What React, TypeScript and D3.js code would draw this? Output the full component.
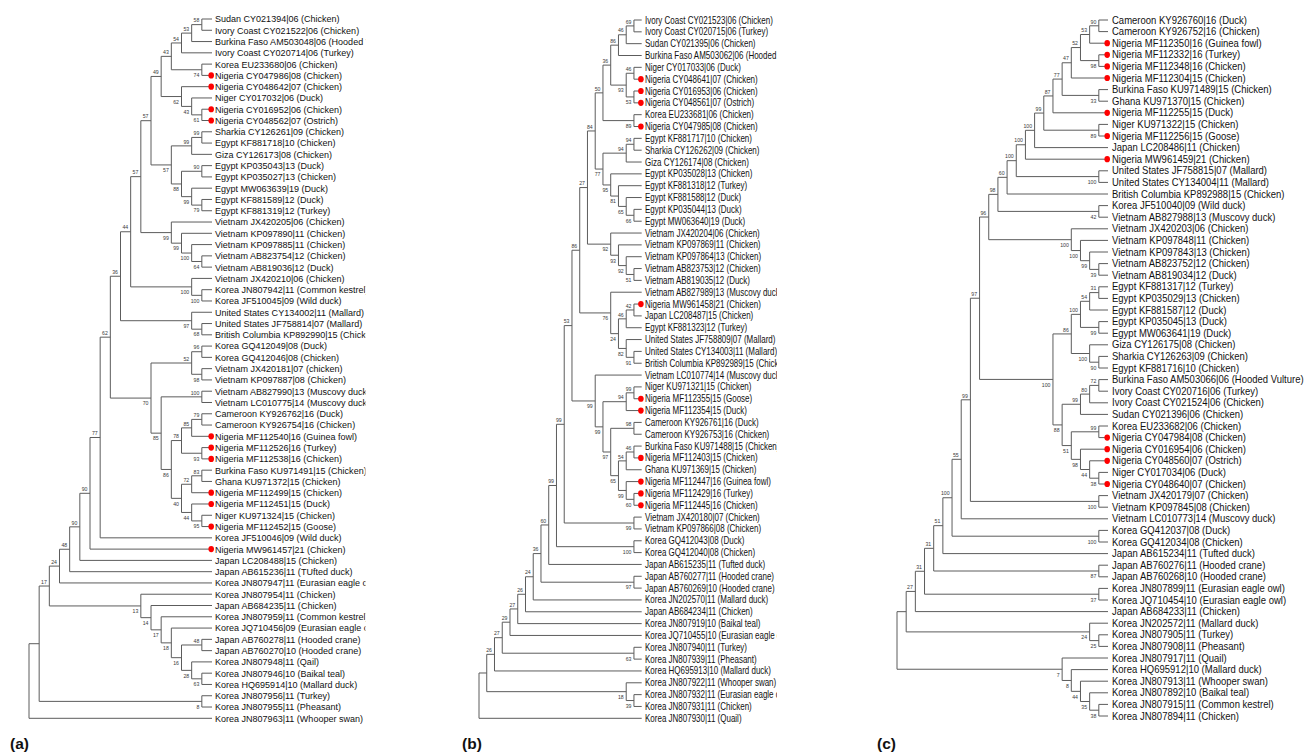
import React from "react";
import * as d3 from "d3";

type Row = [string, string | number, string | number, number | null];

// ---------------- Panel (a) ----------------
const leavesA: string[] = [
  "Sudan CY021394|06 (Chicken)",
  "Ivory Coast CY021522|06 (Chicken)",
  "Burkina Faso AM503048|06 (Hooded Vulture)",
  "Ivory Coast CY020714|06 (Turkey)",
  "Korea EU233680|06 (Chicken)",
  "Nigeria CY047986|08 (Chicken)",
  "Nigeria CY048642|07 (Chicken)",
  "Niger CY017032|06 (Duck)",
  "Nigeria CY016952|06 (Chicken)",
  "Nigeria CY048562|07 (Ostrich)",
  "Sharkia CY126261|09 (Chicken)",
  "Egypt KF881718|10 (Chicken)",
  "Giza CY126173|08 (Chicken)",
  "Egypt KP035043|13 (Duck)",
  "Egypt KP035027|13 (Chicken)",
  "Egypt MW063639|19 (Duck)",
  "Egypt KF881589|12 (Duck)",
  "Egypt KF881319|12 (Turkey)",
  "Vietnam JX420205|06 (Chicken)",
  "Vietnam KP097890|11 (Chicken)",
  "Vietnam KP097885|11 (Chicken)",
  "Vietnam AB823754|12 (Chicken)",
  "Vietnam AB819036|12 (Duck)",
  "Vietnam JX420210|06 (Chicken)",
  "Korea JN807942|11 (Common kestrel)",
  "Korea JF510045|09 (Wild duck)",
  "United States CY134002|11 (Mallard)",
  "United States JF758814|07 (Mallard)",
  "British Columbia KP892990|15 (Chicken)",
  "Korea GQ412049|08 (Duck)",
  "Korea GQ412046|08 (Chicken)",
  "Vietnam JX420181|07 (chicken)",
  "Vietnam KP097887|08 (Chicken)",
  "Vietnam AB827990|13 (Muscovy duck)",
  "Vietnam LC010775|14 (Muscovy duck)",
  "Cameroon KY926762|16 (Duck)",
  "Cameroon KY926754|16 (Chicken)",
  "Nigeria MF112540|16 (Guinea fowl)",
  "Nigeria MF112526|16 (Turkey)",
  "Nigeria MF112538|16 (Chicken)",
  "Burkina Faso KU971491|15 (Chicken)",
  "Ghana KU971372|15 (Chicken)",
  "Nigeria MF112499|15 (Chicken)",
  "Nigeria MF112451|15 (Duck)",
  "Niger KU971324|15 (Chicken)",
  "Nigeria MF112452|15 (Goose)",
  "Korea JF510046|09 (Wild duck)",
  "Nigeria MW961457|21 (Chicken)",
  "Japan LC208488|15 (Chicken)",
  "Japan AB615236|11 (TUfted duck)",
  "Korea JN807947|11 (Eurasian eagle owl)",
  "Korea JN807954|11 (Chicken)",
  "Japan AB684235|11 (Chicken)",
  "Korea JN807959|11 (Common kestrel)",
  "Korea JQ710456|09 (Eurasian eagle owl)",
  "Japan AB760278|11 (Hooded crane)",
  "Japan AB760270|10 (Hooded crane)",
  "Korea JN807948|11 (Qail)",
  "Korea JN807946|10 (Baikal teal)",
  "Korea HQ695914|10 (Mallard duck)",
  "Korea JN807956|11 (Turkey)",
  "Korea JN807955|11 (Pheasant)",
  "Korea JN807963|11 (Whooper swan)",
];

// [node id, upper child, lower child, bootstrap]; numbers are leaf indices
const nodesA: Row[] = [
  ["n1", 0, 1, 58],
  ["n2", "n1", 2, 53],
  ["n3", "n2", 3, 54],
  ["n4", 4, 5, 74],
  ["n5", "n3", "n4", 43],
  ["n6", 8, 9, 61],
  ["n7", 7, "n6", 43],
  ["n8", 6, "n7", 62],
  ["n9", "n5", "n8", 49],
  ["n10", 10, 11, 99],
  ["n11", "n10", 12, 99],
  ["n12", 13, 14, 90],
  ["n13", 16, 17, 79],
  ["n14", 15, "n13", 99],
  ["n15", "n12", "n14", 88],
  ["n16", "n11", "n15", 57],
  ["n17", "n9", "n16", 57],
  ["n18", 21, 22, 64],
  ["n19", 20, "n18", 100],
  ["n20", 19, "n19", 99],
  ["n21", 18, "n20", 99],
  ["n22", "n17", "n21", 57],
  ["n23", 24, 25, 100],
  ["n24", 23, "n23", 100],
  ["n25", "n22", "n24", 44],
  ["n26", 27, 28, 68],
  ["n27", 26, "n26", 97],
  ["n28", "n25", "n27", 36],
  ["n29", 29, 30, 96],
  ["n30", 31, 32, 98],
  ["n31", "n29", "n30", 52],
  ["n32", 33, 34, 100],
  ["n33", 35, 36, 79],
  ["n34", "n33", 37, 85],
  ["n35", 38, 39, 93],
  ["n36", "n34", "n35", 78],
  ["n37", 40, 41, 83],
  ["n38", "n37", 42, 72],
  ["n39", 44, 45, 95],
  ["n40", 43, "n39", 44],
  ["n41", "n38", "n40", 40],
  ["n42", "n36", "n41", 86],
  ["n43", "n32", "n42", 85],
  ["n44", "n31", "n43", 70],
  ["n45", "n28", "n44", 62],
  ["n46", "n45", 46, 77],
  ["n47", "n46", 47, 90],
  ["n48", "n47", 48, 90],
  ["n49", "n48", 49, 48],
  ["n50", "n49", 50, 24],
  ["n51", 55, 56, 48],
  ["n52", 58, 59, 63],
  ["n53", 57, "n52", 28],
  ["n54", "n51", "n53", 16],
  ["n55", 54, "n54", 18],
  ["n56", 53, "n55", 17],
  ["n57", 52, "n56", 14],
  ["n58", 51, "n57", 13],
  ["n59", "n50", "n58", 17],
  ["n60", 60, 61, 8],
  ["n61", "n59", "n60", null],
  ["n62", "n61", 62, null],
];

// ---------------- Panel (b) ----------------
const leavesB: string[] = [
  "Ivory Coast CY021523|06 (Chicken)",
  "Ivory Coast CY020715|06 (Turkey)",
  "Sudan CY021395|06 (Chicken)",
  "Burkina Faso AM503062|06 (Hooded Vulture)",
  "Niger CY017033|06 (Duck)",
  "Nigeria CY048641|07 (Chicken)",
  "Nigeria CY016953|06 (Chicken)",
  "Nigeria CY048561|07 (Ostrich)",
  "Korea EU233681|06 (Chicken)",
  "Nigeria CY047985|08 (Chicken)",
  "Egypt KF881717|10 (Chicken)",
  "Sharkia CY126262|09 (Chicken)",
  "Giza CY126174|08 (Chicken)",
  "Egypt KP035028|13 (Chicken)",
  "Egypt KF881318|12 (Turkey)",
  "Egypt KF881588|12 (Duck)",
  "Egypt KP035044|13 (Duck)",
  "Egypt MW063640|19 (Duck)",
  "Vietnam JX420204|06 (Chicken)",
  "Vietnam KP097869|11 (Chicken)",
  "Vietnam KP097864|13 (Chicken)",
  "Vietnam AB823753|12 (Chicken)",
  "Vietnam AB819035|12 (Duck)",
  "Vietnam AB827989|13 (Muscovy duck)",
  "Nigeria MW961458|21 (Chicken)",
  "Japan LC208487|15 (Chicken)",
  "Egypt KF881323|12 (Turkey)",
  "United States JF758809|07 (Mallard)",
  "United States CY134003|11 (Mallard)",
  "British Columbia KP892989|15 (Chicken)",
  "Vietnam LC010774|14 (Muscovy duck)",
  "Niger KU971321|15 (Chicken)",
  "Nigeria MF112355|15 (Goose)",
  "Nigeria MF112354|15 (Duck)",
  "Cameroon KY926761|16 (Duck)",
  "Cameroon KY926753|16 (Chicken)",
  "Burkina Faso KU971488|15 (Chicken)",
  "Nigeria MF112403|15 (Chicken)",
  "Ghana KU971369|15 (Chicken)",
  "Nigeria MF112447|16 (Guinea fowl)",
  "Nigeria MF112429|16 (Turkey)",
  "Nigeria MF112445|16 (Chicken)",
  "Vietnam JX420180|07 (Chicken)",
  "Vietnam KP097866|08 (Chicken)",
  "Korea GQ412043|08 (Duck)",
  "Korea GQ412040|08 (Chicken)",
  "Japan AB615235|11 (Tufted duck)",
  "Japan AB760277|11 (Hooded crane)",
  "Japan AB760269|10 (Hooded crane)",
  "Korea JN202570|11 (Mallard duck)",
  "Japan AB684234|11 (Chicken)",
  "Korea JN807919|10 (Baikal teal)",
  "Korea JQ710455|10 (Eurasian eagle owl)",
  "Korea JN807940|11 (Turkey)",
  "Korea JN807939|11 (Pheasant)",
  "Korea HQ695913|10 (Mallard duck)",
  "Korea JN807922|11 (Whooper swan)",
  "Korea JN807932|11 (Eurasian eagle owl)",
  "Korea JN807931|11 (Chicken)",
  "Korea JN807930|11 (Quail)",
];

const nodesB: Row[] = [
  ["n1", 0, 1, 69],
  ["n2", "n1", 2, 46],
  ["n3", "n2", 3, 86],
  ["n4", 4, 5, 46],
  ["n5", 6, 7, 53],
  ["n6", "n4", "n5", 93],
  ["n7", "n3", "n6", 36],
  ["n8", 8, 9, 89],
  ["n9", "n7", "n8", 50],
  ["n10", 10, 11, 94],
  ["n11", "n10", 12, 94],
  ["n12", 16, 17, 66],
  ["n13", 15, "n12", 65],
  ["n14", 14, "n13", 81],
  ["n15", 13, "n14", 95],
  ["n16", "n11", "n15", 77],
  ["n17", "n9", "n16", 84],
  ["n18", 21, 22, 51],
  ["n19", 20, "n18", 92],
  ["n20", 19, "n19", 93],
  ["n21", 18, "n20", 92],
  ["n22", "n17", "n21", 27],
  ["n23", 24, 25, 42],
  ["n24", "n23", 26, 46],
  ["n25", 28, 29, 91],
  ["n26", 27, "n25", 82],
  ["n27", "n24", "n26", 24],
  ["n28", 23, "n27", 76],
  ["n29", "n22", "n28", 86],
  ["n30", 31, 32, 99],
  ["n31", "n30", 33, 94],
  ["n32", 34, 35, 98],
  ["n33", 36, 37, 46],
  ["n34", "n33", 38, 54],
  ["n35", 40, 41, 60],
  ["n36", 39, "n35", 99],
  ["n37", "n34", "n36", 65],
  ["n38", "n32", "n37", 97],
  ["n39", "n31", "n38", 99],
  ["n40", 30, "n39", 99],
  ["n41", "n29", "n40", 53],
  ["n42", 42, 43, 99],
  ["n43", "n41", "n42", 99],
  ["n44", 44, 45, 100],
  ["n45", "n43", "n44", 99],
  ["n46", "n45", 46, 60],
  ["n47", 47, 48, 97],
  ["n48", "n46", "n47", 36],
  ["n49", "n48", 49, 24],
  ["n50", "n49", 50, 26],
  ["n51", "n50", 51, 27],
  ["n52", "n51", 52, 29],
  ["n53", 53, 54, 63],
  ["n54", "n52", "n53", 27],
  ["n55", "n54", 55, 26],
  ["n56", 57, 58, 39],
  ["n57", 56, "n56", 18],
  ["n58", "n55", "n57", null],
  ["n59", "n58", 59, null],
];

// ---------------- Panel (c) ----------------
const leavesC: string[] = [
  "Cameroon KY926760|16 (Duck)",
  "Cameroon KY926752|16 (Chicken)",
  "Nigeria MF112350|16 (Guinea fowl)",
  "Nigeria MF112332|16 (Turkey)",
  "Nigeria MF112348|16 (Chicken)",
  "Nigeria MF112304|15 (Chicken)",
  "Burkina Faso KU971489|15 (Chicken)",
  "Ghana KU971370|15 (Chicken)",
  "Nigeria MF112255|15 (Duck)",
  "Niger KU971322|15 (Chicken)",
  "Nigeria MF112256|15 (Goose)",
  "Japan LC208486|11 (Chicken)",
  "Nigeria MW961459|21 (Chicken)",
  "United States JF758815|07 (Mallard)",
  "United States CY134004|11 (Mallard)",
  "British Columbia KP892988|15 (Chicken)",
  "Korea JF510040|09 (Wild duck)",
  "Vietnam AB827988|13 (Muscovy duck)",
  "Vietnam JX420203|06 (Chicken)",
  "Vietnam KP097848|11 (Chicken)",
  "Vietnam KP097843|13 (Chicken)",
  "Vietnam AB823752|12 (Chicken)",
  "Vietnam AB819034|12 (Duck)",
  "Egypt KF881317|12 (Turkey)",
  "Egypt KP035029|13 (Chicken)",
  "Egypt KF881587|12 (Duck)",
  "Egypt KP035045|13 (Duck)",
  "Egypt MW063641|19 (Duck)",
  "Giza CY126175|08 (Chicken)",
  "Sharkia CY126263|09 (Chicken)",
  "Egypt KF881716|10 (Chicken)",
  "Burkina Faso AM503066|06 (Hooded Vulture)",
  "Ivory Coast CY020716|06 (Turkey)",
  "Ivory Coast CY021524|06 (Chicken)",
  "Sudan CY021396|06 (Chicken)",
  "Korea EU233682|06 (Chicken)",
  "Nigeria CY047984|08 (Chicken)",
  "Nigeria CY016954|06 (Chicken)",
  "Nigeria CY048560|07 (Ostrich)",
  "Niger CY017034|06 (Duck)",
  "Nigeria CY048640|07 (Chicken)",
  "Vietnam JX420179|07 (Chicken)",
  "Vietnam KP097845|08 (Chicken)",
  "Vietnam LC010773|14 (Muscovy duck)",
  "Korea GQ412037|08 (Duck)",
  "Korea GQ412034|08 (Chicken)",
  "Japan AB615234|11 (Tufted duck)",
  "Japan AB760276|11 (Hooded crane)",
  "Japan AB760268|10 (Hooded crane)",
  "Korea JN807899|11 (Eurasian eagle owl)",
  "Korea JQ710454|10 (Eurasian eagle owl)",
  "Japan AB684233|11 (Chicken)",
  "Korea JN202572|11 (Mallard duck)",
  "Korea JN807905|11 (Turkey)",
  "Korea JN807908|11 (Pheasant)",
  "Korea JN807917|11 (Quail)",
  "Korea HQ695912|10 (Mallard duck)",
  "Korea JN807913|11 (Whooper swan)",
  "Korea JN807892|10 (Baikal teal)",
  "Korea JN807915|11 (Common kestrel)",
  "Korea JN807894|11 (Chicken)",
];

const nodesC: Row[] = [
  ["n1", 0, 1, 90],
  ["n2", "n1", 2, 53],
  ["n3", 3, 4, 98],
  ["n4", "n2", "n3", 52],
  ["n5", "n4", 5, 47],
  ["n6", 6, 7, 33],
  ["n7", "n5", "n6", 77],
  ["n8", "n7", 8, 87],
  ["n9", 9, 10, 89],
  ["n10", "n8", "n9", 99],
  ["n11", "n10", 11, 100],
  ["n12", "n11", 12, 100],
  ["n13", 13, 14, 100],
  ["n14", "n12", "n13", 100],
  ["n15", "n14", 15, 60],
  ["n16", 16, 17, 42],
  ["n17", "n15", "n16", 98],
  ["n18", 21, 22, 39],
  ["n19", 20, "n18", 99],
  ["n20", 19, "n19", 100],
  ["n21", 18, "n20", 100],
  ["n22", "n17", "n21", 96],
  ["n23", 23, 24, 31],
  ["n24", "n23", 25, 54],
  ["n25", 26, 27, 99],
  ["n26", "n24", "n25", 100],
  ["n27", 29, 30, 90],
  ["n28", 28, "n27", 100],
  ["n29", "n26", "n28", 86],
  ["n30", 31, 32, 72],
  ["n31", "n30", 33, 80],
  ["n32", "n31", 34, 99],
  ["n33", 35, 36, 99],
  ["n34", 39, 40, 38],
  ["n35", 38, "n34", 44],
  ["n36", 37, "n35", 98],
  ["n37", "n33", "n36", 51],
  ["n38", "n32", "n37", 88],
  ["n39", "n29", "n38", 100],
  ["n40", "n22", "n39", 97],
  ["n41", 41, 42, 100],
  ["n42", "n40", "n41", 99],
  ["n43", "n42", 43, 55],
  ["n44", 44, 45, 100],
  ["n45", "n43", "n44", 100],
  ["n46", "n45", 46, 51],
  ["n47", 47, 48, 87],
  ["n48", "n46", "n47", 31],
  ["n49", 49, 50, 37],
  ["n50", "n48", "n49", 31],
  ["n51", "n50", 51, 27],
  ["n52", 53, 54, 25],
  ["n53", 52, "n52", 24],
  ["n54", "n51", "n53", null],
  ["n55", 59, 60, 38],
  ["n56", 58, "n55", 35],
  ["n57", 57, "n56", 44],
  ["n58", 56, "n57", 8],
  ["n59", 55, "n58", 7],
  ["n60", "n54", "n59", null],
];

const panelTags = ["(a)", "(b)", "(c)"];

// ---------------------------------------------------
interface Layout {
  id: string;
  rootX: number;
  leafX: number;
  y0: number;
  y1: number;
  textX: number;
  fontSize: number;
  sx: number;
  clipRight: number;
  tagX: number;
}

const LINE = "#5c5c5c";

function buildTree(leaves: string[], rows: Row[]) {
  const map = new Map<string, any>();
  const mk = (c: string | number) =>
    typeof c === "number" ? { name: leaves[c], idx: c } : map.get(c);
  rows.forEach(([id, a, b, s]) => {
    map.set(id, { id, support: s, children: [mk(a), mk(b)] });
  });
  return map.get(rows[rows.length - 1][0]);
}

function Tree({ leaves, rows, L, tag }: { leaves: string[]; rows: Row[]; L: Layout; tag: string }) {
  const root: any = d3.hierarchy(buildTree(leaves, rows));
  const xS = d3.scaleLinear().domain([root.height, 0]).range([L.rootX, L.leafX]);
  const yS = d3.scaleLinear().domain([0, leaves.length - 1]).range([L.y0, L.y1]);
  root.eachAfter((n: any) => {
    n.px = xS(n.height);
    n.py = n.children ? d3.mean(n.children, (c: any) => c.py) : yS(n.data.idx);
  });
  const internals = root.descendants().filter((n: any) => n.children);
  const leafNodes = root.leaves();

  return (
    <g>
      <defs>
        <clipPath id={`clip-${L.id}`}>
          <rect x={0} y={0} width={L.clipRight} height={752} />
        </clipPath>
      </defs>
      <g clipPath={`url(#clip-${L.id})`}>
        {internals.map((n: any, i: number) => {
          const [c0, c1] = n.children;
          return (
            <path
              key={`p${i}`}
              d={`M${c0.px},${c0.py}H${n.px}V${c1.py}H${c1.px}`}
              fill="none"
              stroke={LINE}
              strokeWidth={1}
            />
          );
        })}
        {internals
          .filter((n: any) => n.parent && n.data.support != null)
          .map((n: any, i: number) => {
            const upper = n.parent.children[0] === n;
            return (
              <text
                key={`s${i}`}
                x={n.px - 2.5}
                y={upper ? n.py - 2.3 : n.py + 7.3}
                textAnchor="end"
                fontSize={5.2}
                fill="#3a3a3a"
                fontFamily="Liberation Sans, Arial, sans-serif"
              >
                {n.data.support}
              </text>
            );
          })}
        {leafNodes.map((n: any, i: number) => {
          const nig = n.data.name.startsWith("Nigeria ");
          return (
            <g key={`l${i}`}>
              {nig && <ellipse cx={L.leafX - 0.8} cy={n.py} rx={2.8} ry={3.1} fill="#ff0000" />}
              <text
                transform={`translate(${L.textX},${n.py + L.fontSize * 0.35}) scale(${L.sx},1)`}
                fontSize={L.fontSize}
                fill="#111"
                fontFamily="Liberation Sans, Arial, sans-serif"
              >
                {n.data.name}
              </text>
            </g>
          );
        })}
      </g>
      <text
        x={L.tagX}
        y={749}
        fontSize={15.5}
        fontWeight="bold"
        fill="#111"
        fontFamily="Liberation Sans, Arial, sans-serif"
      >
        {tag}
      </text>
    </g>
  );
}

const layoutA: Layout = {
  id: "a", rootX: 29, leafX: 212, y0: 19, y1: 718.3, textX: 215,
  fontSize: 9.7, sx: 0.93, clipRight: 365.5, tagX: 10,
};
const layoutB: Layout = {
  id: "b", rootX: 479, leafX: 641.7, y0: 20, y1: 718.3, textX: 645,
  fontSize: 10, sx: 0.8, clipRight: 777, tagX: 462,
};
const layoutC: Layout = {
  id: "c", rootX: 897, leafX: 1108, y0: 20, y1: 716, textX: 1112,
  fontSize: 10, sx: 0.95, clipRight: 1314, tagX: 877,
};

export default function App() {
  return (
    <svg
      width={1314}
      height={752}
      style={{ position: "absolute", left: 0, top: 0, background: "#fff" }}
    >
      <rect x={0} y={0} width={1314} height={752} fill="#fff" />
      <Tree leaves={leavesA} rows={nodesA} L={layoutA} tag={panelTags[0]} />
      <Tree leaves={leavesB} rows={nodesB} L={layoutB} tag={panelTags[1]} />
      <Tree leaves={leavesC} rows={nodesC} L={layoutC} tag={panelTags[2]} />
    </svg>
  );
}
